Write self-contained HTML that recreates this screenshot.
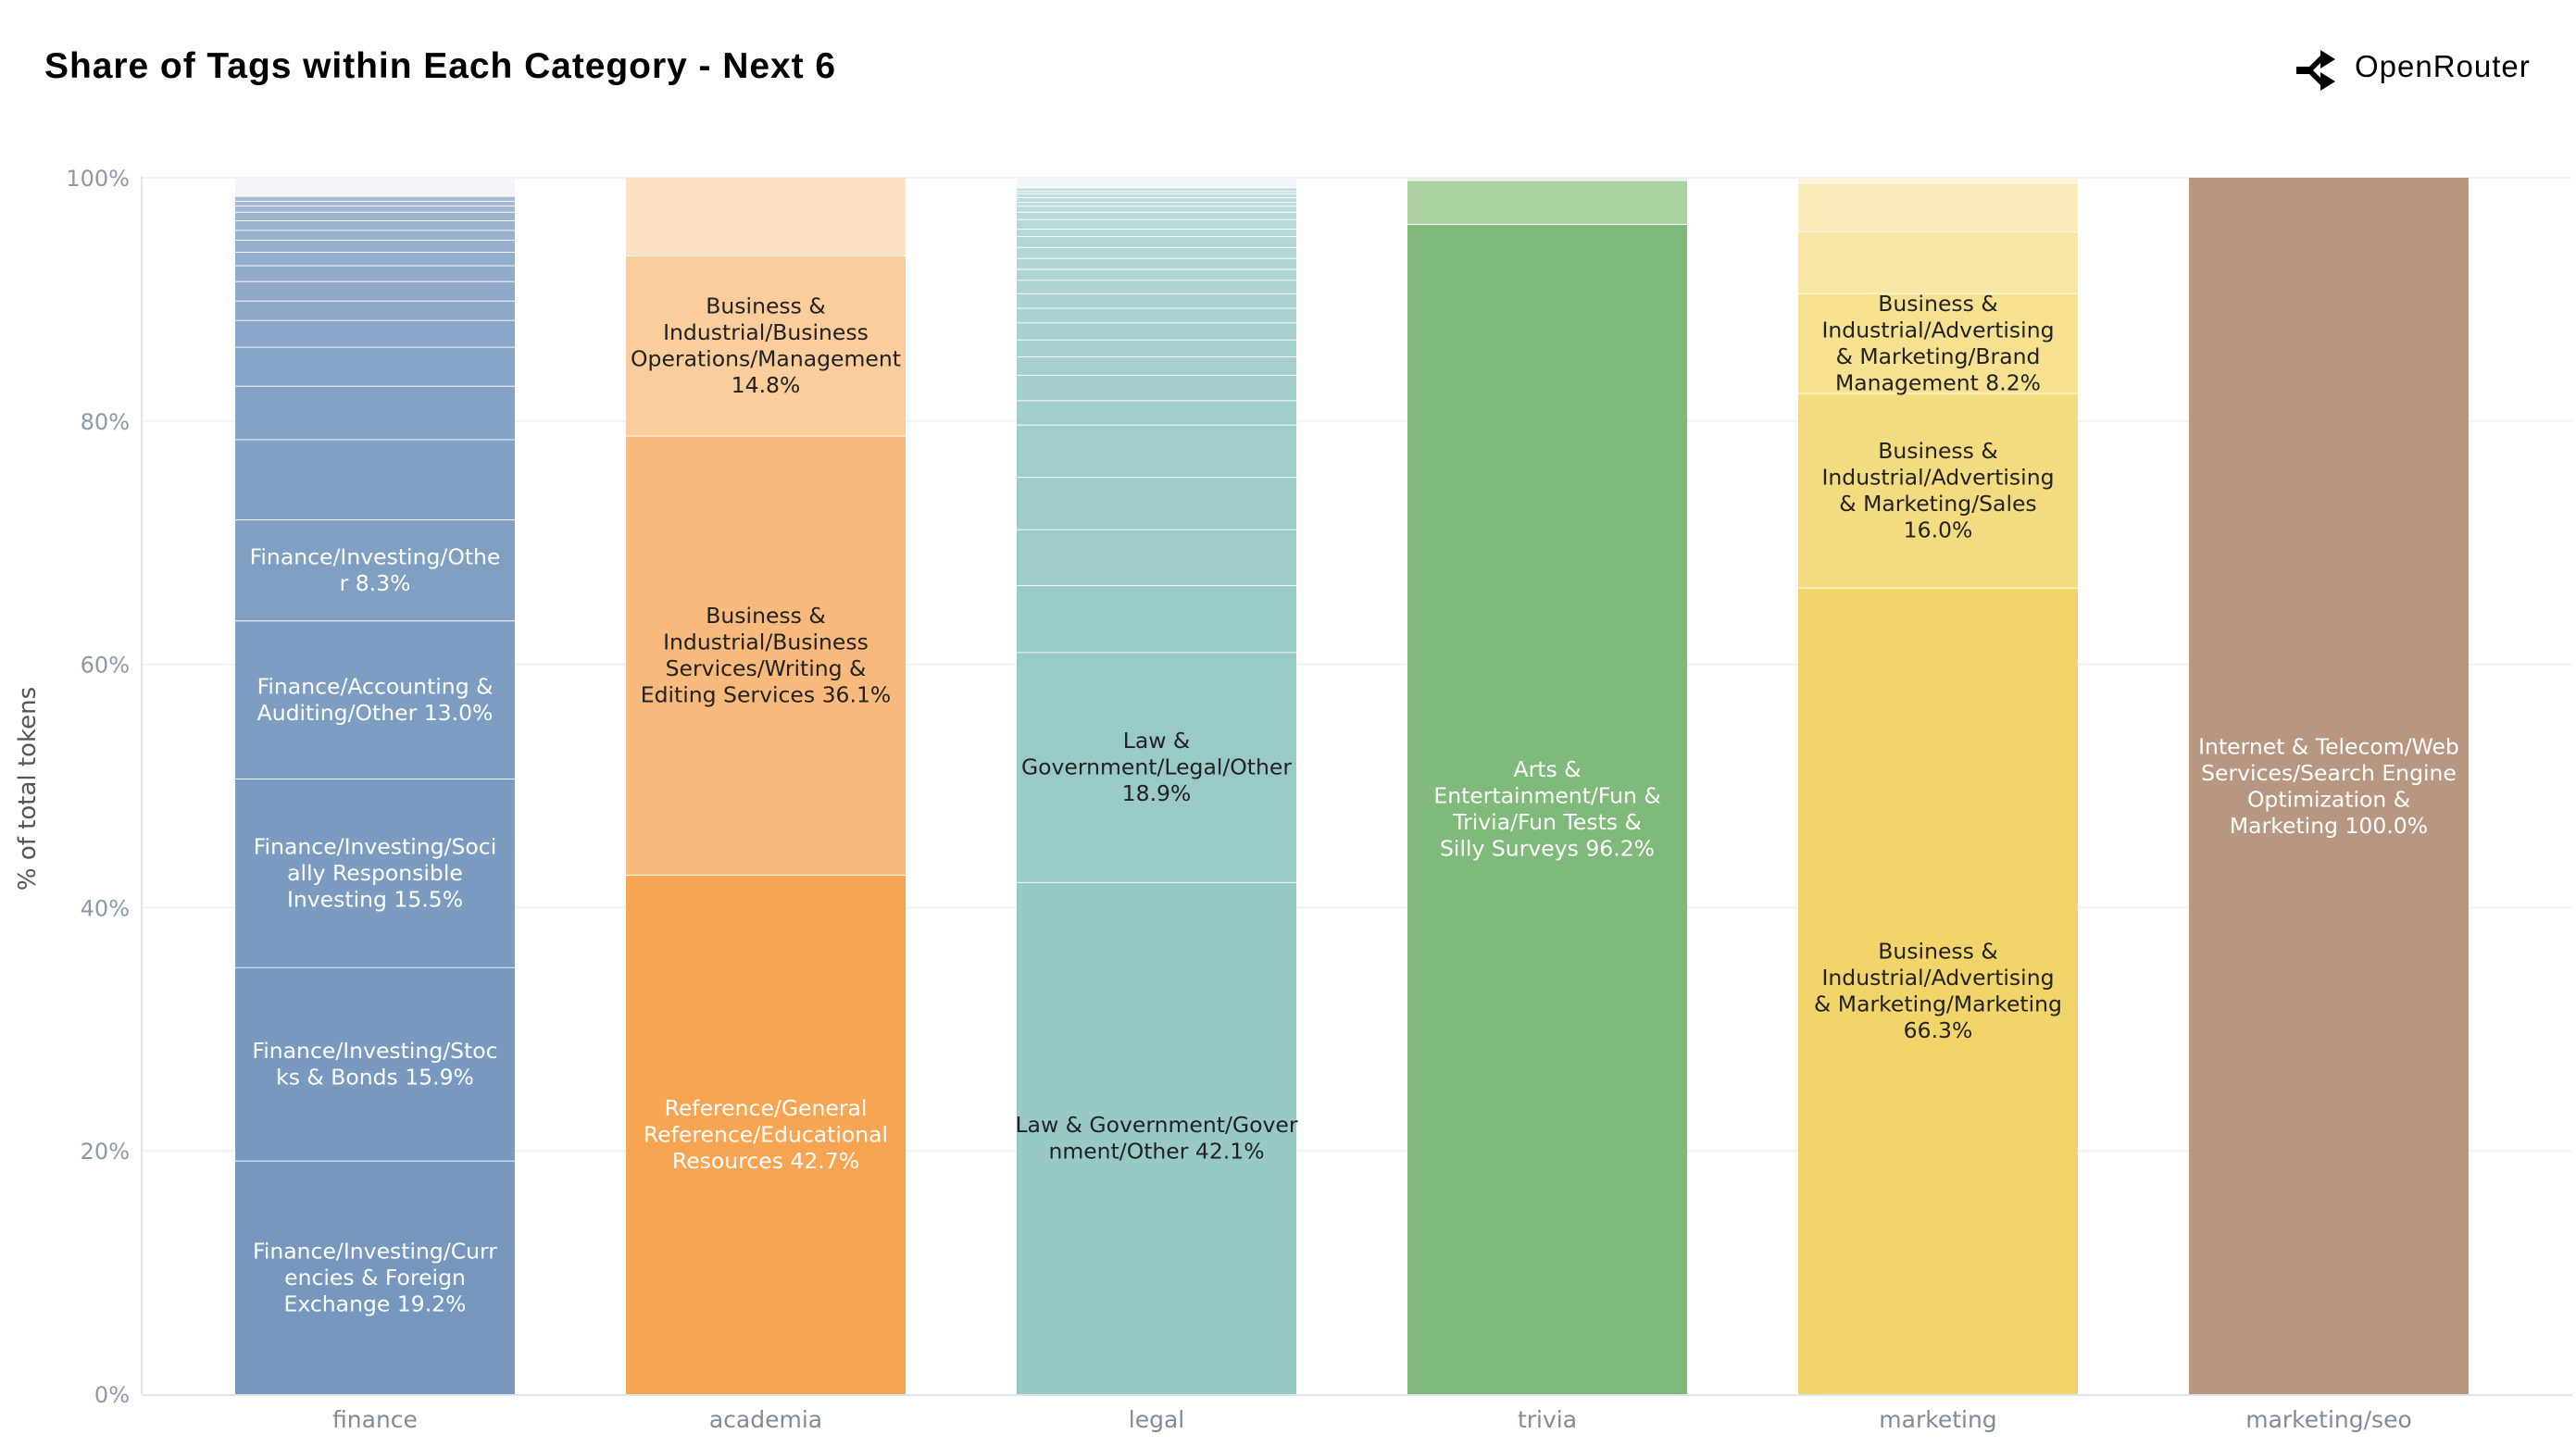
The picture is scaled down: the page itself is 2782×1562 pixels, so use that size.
<!DOCTYPE html>
<html><head><meta charset="utf-8">
<style>
html,body{margin:0;padding:0;background:#fff;}
body{width:2782px;height:1562px;overflow:hidden;}
svg{display:block;}
</style></head>
<body>
<svg id="c" width="2782" height="1562" xmlns="http://www.w3.org/2000/svg">
<rect width="2782" height="1562" fill="#fff"/>
<text x="48" y="84" font-family="Liberation Sans, sans-serif" font-weight="bold" font-size="39" letter-spacing="0.95" fill="#000">Share of Tags within Each Category - Next 6</text>
<g transform="translate(2480,54)">
<path d="M0,18 L14,18 L26,6 L26,0 L42,10 L26,20 L26,14 L18,22 L26,30 L26,24 L42,34 L26,44 L26,38 L14,26 L0,26 Z" fill="#000"/>
</g>
<text x="2543" y="83" font-family="Liberation Sans, sans-serif" font-size="33" letter-spacing="1.0" fill="#000">OpenRouter</text>
<g id="grid"></g>
<g id="bars"></g>
<g id="labels"></g>
<text transform="translate(38,852) rotate(-90)" text-anchor="middle" font-family="DejaVu Sans, sans-serif" font-size="26" fill="#555">% of total tokens</text>
</svg>
<script>
(function(){
var NS="http://www.w3.org/2000/svg";
var grid=document.getElementById('grid'),bars=document.getElementById('bars'),labels=document.getElementById('labels');
var Y0=1506,K=13.14,XL=153,XR=2778;
function el(p,tag,a,txt){var e=document.createElementNS(NS,tag);for(var k in a)e.setAttribute(k,a[k]);if(txt!=null)e.textContent=txt;p.appendChild(e);return e;}
function y(p){return Y0-p*K;}
for(var i=0;i<=5;i++){var yy=y(i*20);
 if(i>0) el(grid,'line',{x1:XL,x2:XR,y1:yy,y2:yy,stroke:'#f1f3f6','stroke-width':2});
 el(grid,'text',{x:140,y:yy+9,'text-anchor':'end','font-family':'DejaVu Sans, sans-serif','font-size':24,fill:'#8a99aa'},(i*20)+'%');}
el(grid,'line',{x1:XL,x2:XL,y1:190,y2:Y0,stroke:'#dfe5ee','stroke-width':2});
el(grid,'line',{x1:XL,x2:XR,y1:Y0+1,y2:Y0+1,stroke:'#dfe5ee','stroke-width':2});
function hex(c){return [parseInt(c.substr(1,2),16),parseInt(c.substr(3,2),16),parseInt(c.substr(5,2),16)];}
function mix(a,b,t){a=hex(a);b=hex(b);return 'rgb('+a.map(function(v,i){return Math.round(v+(b[i]-v)*t)}).join(',')+')';}
var W=302;
var data=[
 {c:405,name:'finance',b:[0,19.2,35.1,50.6,63.6,71.9,78.5,82.9,86.1,88.3,89.9,91.5,92.8,93.9,94.9,95.7,96.5,97.2,97.7,98.1,98.5,100],c0:'#7797bf',c1:'#a6bad4',top:'#f3f5f8',
  L:[[0,['Finance/Investing/Curr','encies & Foreign','Exchange 19.2%']],[1,['Finance/Investing/Stoc','ks & Bonds 15.9%']],[2,['Finance/Investing/Soci','ally Responsible','Investing 15.5%']],[3,['Finance/Accounting &','Auditing/Other 13.0%']],[4,['Finance/Investing/Othe','r 8.3%']]],tc:'#fff'},
 {c:827,name:'academia',b:[0,42.7,78.8,93.6,100],cols:['#f7a553','#f7ba7c','#fbcd9d','#fde2c6'],
  L:[[0,['Reference/General','Reference/Educational','Resources 42.7%'],'#fff'],[1,['Business &','Industrial/Business','Services/Writing &','Editing Services 36.1%']],[2,['Business &','Industrial/Business','Operations/Management','14.8%']]],tc:'#222'},
 {c:1249,name:'legal',b:[0,42.1,61.0,66.5,71.1,75.4,79.7,81.7,83.8,85.3,86.7,88.1,89.3,90.5,91.6,92.5,93.4,94.3,95.2,95.8,96.6,97.2,97.7,98.0,98.4,98.7,98.9,99.2,100],c0:'#98c9c5',c1:'#c3dfdf',top:'#f3f6f8',
  L:[[0,['Law & Government/Gover','nment/Other 42.1%']],[1,['Law &','Government/Legal/Other','18.9%']]],tc:'#222'},
 {c:1671,name:'trivia',b:[0,96.2,99.8,100],cols:['#7fba7a','#acd1a3','#e6efe3'],
  L:[[0,['Arts &','Entertainment/Fun &','Trivia/Fun Tests &','Silly Surveys 96.2%']]],tc:'#fff'},
 {c:2093,name:'marketing',b:[0,66.3,82.3,90.5,95.6,99.6,100],cols:['#f1d56b','#f3dc80','#f5e190','#f8e7a6','#f9ecb9','#fbf3dc'],
  L:[[0,['Business &','Industrial/Advertising','& Marketing/Marketing','66.3%']],[1,['Business &','Industrial/Advertising','& Marketing/Sales','16.0%']],[2,['Business &','Industrial/Advertising','& Marketing/Brand','Management 8.2%']]],tc:'#222'},
 {c:2515,name:'marketing/seo',b:[0,100],cols:['#b79782'],
  L:[[0,['Internet & Telecom/Web','Services/Search Engine','Optimization &','Marketing 100.0%']]],tc:'#fff'}
];
data.forEach(function(d){
 var n=d.b.length-1,x=d.c-W/2;
 for(var i=0;i<n;i++){
  var col;
  if(d.cols) col=d.cols[i];
  else if(i==n-1) col=d.top;
  else col=mix(d.c0,d.c1,(n>2?i/(n-2):0));
  var t=y(d.b[i+1]),bt=y(d.b[i]);
  el(bars,'rect',{x:x,y:t,width:W,height:bt-t,fill:col});
  if(i<n-1) el(bars,'line',{x1:x,x2:x+W,y1:t,y2:t,stroke:'#fff','stroke-width':1.8});
 }
 d.L.forEach(function(l){
  var i=l[0],lines=l[1],tc=l[2]||d.tc;
  var cy=(y(d.b[i])+y(d.b[i+1]))/2, lh=28.5, s=cy-(lines.length-1)*lh/2;
  lines.forEach(function(s2,j){el(labels,'text',{x:d.c,y:s+j*lh+8,'text-anchor':'middle','font-family':'DejaVu Sans, sans-serif','font-size':23.5,fill:tc},s2);});
 });
 el(labels,'text',{x:d.c,y:1542,'text-anchor':'middle','font-family':'DejaVu Sans, sans-serif','font-size':25,fill:'#7d8c9c'},d.name);
});
})();
</script>
</body></html>
